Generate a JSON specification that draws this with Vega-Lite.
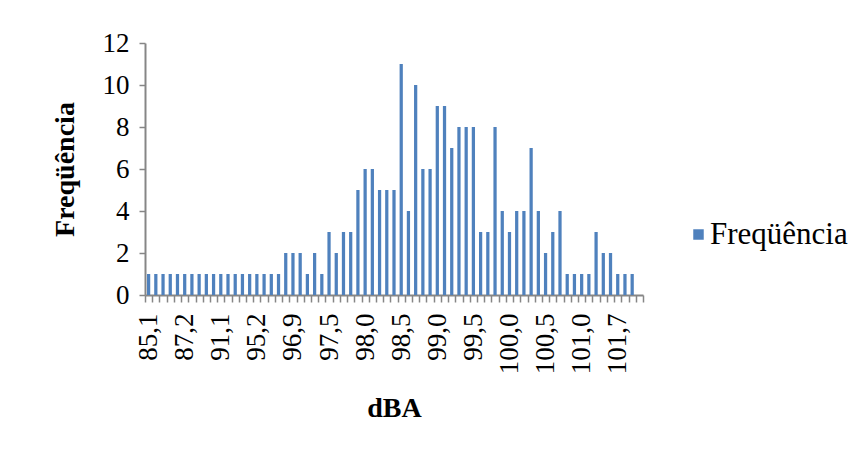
{
  "$schema": "https://vega.github.io/schema/vega-lite/v6.json",
  "width": 498,
  "height": 252,
  "autosize": {"type": "none"},
  "padding": {"left": 145, "top": 43, "right": 223, "bottom": 161},
  "background": "white",
  "config": {
    "view": {"stroke": null},
    "font": "Liberation Serif"
  },
  "data": {
    "values": [
      {"dBA": "85,1", "freq": 1}, {"dBA": "85,6", "freq": 1}, {"dBA": "86,0", "freq": 1},
      {"dBA": "86,4", "freq": 1}, {"dBA": "86,8", "freq": 1}, {"dBA": "87,2", "freq": 1},
      {"dBA": "88,0", "freq": 1}, {"dBA": "88,9", "freq": 1}, {"dBA": "89,6", "freq": 1},
      {"dBA": "90,4", "freq": 1}, {"dBA": "91,1", "freq": 1}, {"dBA": "92,0", "freq": 1},
      {"dBA": "93,1", "freq": 1}, {"dBA": "93,8", "freq": 1}, {"dBA": "94,5", "freq": 1},
      {"dBA": "95,2", "freq": 1}, {"dBA": "95,6", "freq": 1}, {"dBA": "96,0", "freq": 1},
      {"dBA": "96,3", "freq": 1}, {"dBA": "96,6", "freq": 2}, {"dBA": "96,9", "freq": 2},
      {"dBA": "97,0", "freq": 2}, {"dBA": "97,1", "freq": 1}, {"dBA": "97,3", "freq": 2},
      {"dBA": "97,4", "freq": 1}, {"dBA": "97,5", "freq": 3}, {"dBA": "97,6", "freq": 2},
      {"dBA": "97,7", "freq": 3}, {"dBA": "97,8", "freq": 3}, {"dBA": "97,9", "freq": 5},
      {"dBA": "98,0", "freq": 6}, {"dBA": "98,1", "freq": 6}, {"dBA": "98,2", "freq": 5},
      {"dBA": "98,3", "freq": 5}, {"dBA": "98,4", "freq": 5}, {"dBA": "98,5", "freq": 11},
      {"dBA": "98,6", "freq": 4}, {"dBA": "98,7", "freq": 10}, {"dBA": "98,8", "freq": 6},
      {"dBA": "98,9", "freq": 6}, {"dBA": "99,0", "freq": 9}, {"dBA": "99,1", "freq": 9},
      {"dBA": "99,2", "freq": 7}, {"dBA": "99,3", "freq": 8}, {"dBA": "99,4", "freq": 8},
      {"dBA": "99,5", "freq": 8}, {"dBA": "99,6", "freq": 3}, {"dBA": "99,7", "freq": 3},
      {"dBA": "99,8", "freq": 8}, {"dBA": "99,9", "freq": 4}, {"dBA": "100,0", "freq": 3},
      {"dBA": "100,1", "freq": 4}, {"dBA": "100,2", "freq": 4}, {"dBA": "100,3", "freq": 7},
      {"dBA": "100,4", "freq": 4}, {"dBA": "100,5", "freq": 2}, {"dBA": "100,6", "freq": 3},
      {"dBA": "100,7", "freq": 4}, {"dBA": "100,8", "freq": 1}, {"dBA": "100,9", "freq": 1},
      {"dBA": "101,0", "freq": 1}, {"dBA": "101,1", "freq": 1}, {"dBA": "101,2", "freq": 3},
      {"dBA": "101,3", "freq": 2}, {"dBA": "101,5", "freq": 2}, {"dBA": "101,7", "freq": 1},
      {"dBA": "101,9", "freq": 1}, {"dBA": "102,3", "freq": 1}, {"dBA": "102,5", "freq": 0}
    ]
  },
  "mark": {"type": "bar", "width": {"band": 0.45}},
  "encoding": {
    "x": {
      "field": "dBA",
      "type": "ordinal",
      "sort": null,
      "scale": {"paddingInner": 0, "paddingOuter": 0},
      "axis": {
        "title": "dBA",
        "titleFont": "Liberation Serif",
        "titleFontSize": 28,
        "titleFontWeight": "bold",
        "titleColor": "black",
        "titlePadding": 21,
        "labelAngle": -90,
        "labelFont": "Liberation Serif",
        "labelFontSize": 27,
        "labelColor": "black",
        "labelPadding": 11,
        "labelOverlap": false,
        "labelBound": false,
        "labelExpr": "indexof(['85,1','87,2','91,1','95,2','96,9','97,5','98,0','98,5','99,0','99,5','100,0','100,5','101,0','101,7'], datum.label) >= 0 ? datum.label : ''",
        "tickBand": "extent",
        "tickSize": 7,
        "tickWidth": 1.5,
        "tickColor": "#868686",
        "domainColor": "#868686",
        "domainWidth": 2
      }
    },
    "y": {
      "field": "freq",
      "type": "quantitative",
      "scale": {"domain": [0, 12]},
      "axis": {
        "title": "Freqüência",
        "titleFont": "Liberation Serif",
        "titleFontSize": 28,
        "titleFontWeight": "bold",
        "titleColor": "black",
        "titlePadding": 23,
        "values": [0, 2, 4, 6, 8, 10, 12],
        "grid": false,
        "labelFont": "Liberation Serif",
        "labelFontSize": 27,
        "labelColor": "black",
        "labelPadding": 10,
        "tickSize": 6,
        "tickWidth": 1.5,
        "tickColor": "#868686",
        "domainColor": "#868686",
        "domainWidth": 2
      }
    },
    "color": {
      "datum": "Freqüência",
      "scale": {"range": ["#4F81BD"]},
      "legend": {
        "title": null,
        "orient": "none",
        "legendX": 538,
        "legendY": 176,
        "symbolType": "square",
        "symbolSize": 110,
        "symbolStrokeWidth": 0,
        "labelFont": "Liberation Serif",
        "labelFontSize": 31,
        "labelColor": "black",
        "labelOffset": -4
      }
    }
  }
}
